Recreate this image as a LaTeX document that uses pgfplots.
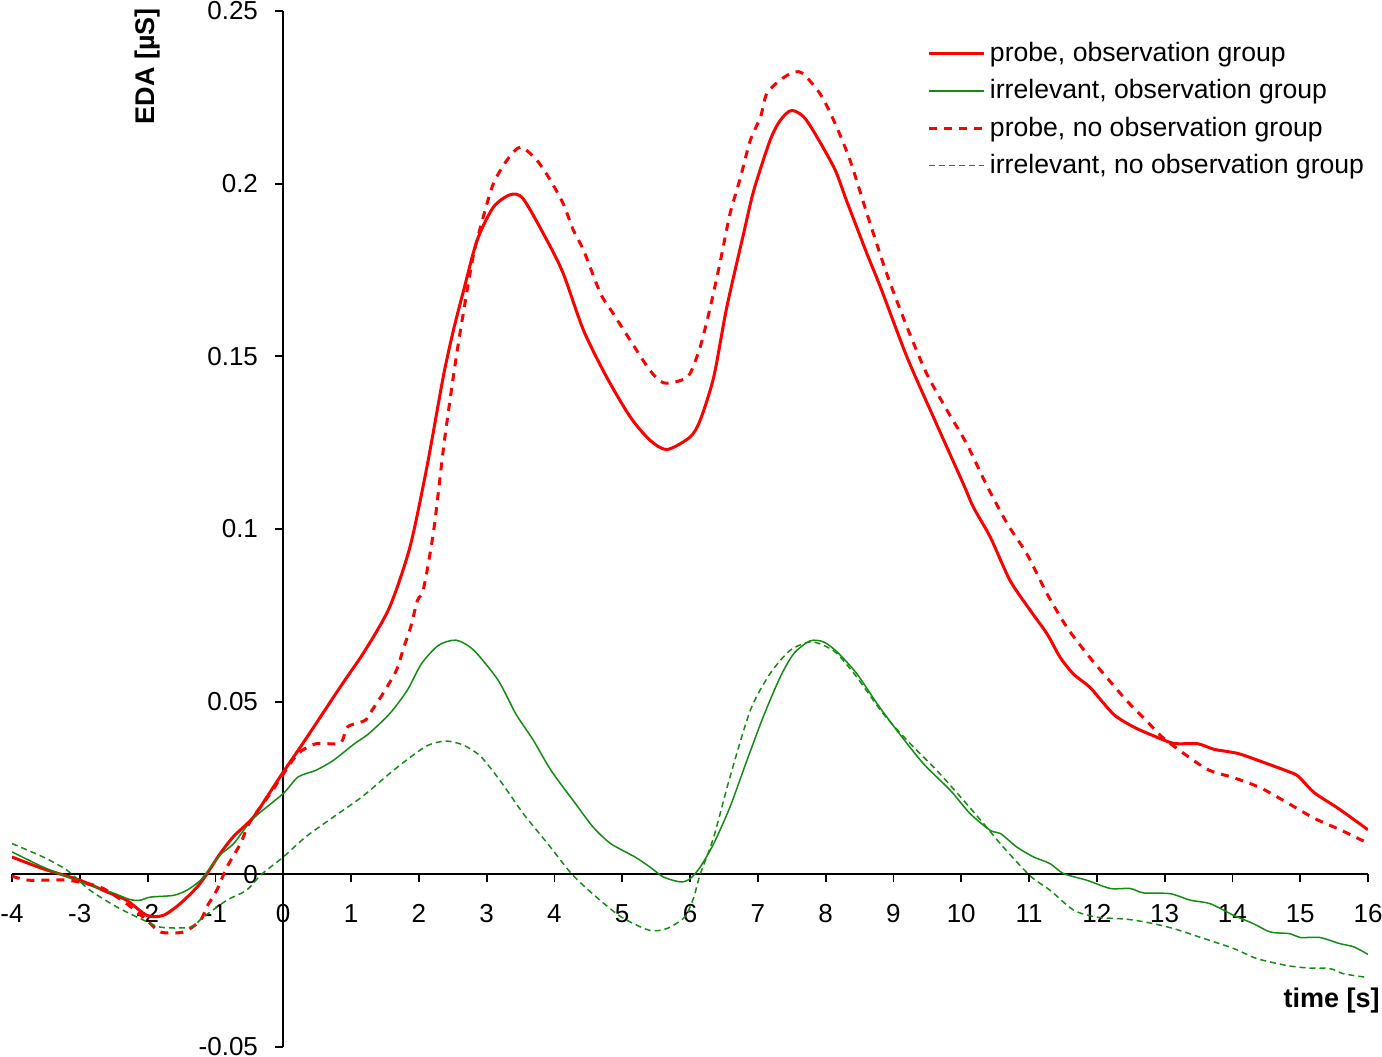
\documentclass[border=0pt]{standalone}
\usepackage{fontspec}
\setmainfont{Liberation Sans}
\usepackage{pgfplots}
\usepackage{pgfplotstable}
\pgfplotsset{compat=1.18}
\definecolor{exred}{RGB}{255,0,0}
\definecolor{exgreen}{RGB}{20,140,20}

\pgfplotstableread{
x y
-4.00 0.0050
-3.54 0.0016
-3.00 -0.0017
-2.60 -0.0051
-2.31 -0.0075
-2.01 -0.0119
-1.77 -0.0119
-1.52 -0.0085
-1.27 -0.0037
-1.13 0.0000
-0.93 0.0060
-0.73 0.0110
-0.45 0.0163
-0.22 0.0230
0.00 0.0296
0.32 0.0388
0.84 0.0542
1.21 0.0649
1.57 0.0774
1.87 0.0948
2.12 0.1180
2.36 0.1440
2.51 0.1575
2.66 0.1690
2.86 0.1836
3.10 0.1932
3.35 0.1968
3.54 0.1956
3.89 0.1836
4.13 0.1740
4.43 0.1575
4.77 0.1440
5.12 0.1324
5.41 0.1257
5.66 0.1230
6.00 0.1266
6.15 0.1315
6.35 0.1440
6.54 0.1640
6.79 0.1855
6.94 0.1980
7.18 0.2125
7.33 0.2183
7.50 0.2212
7.72 0.2183
8.12 0.2048
8.31 0.1950
8.61 0.1797
8.81 0.1700
9.20 0.1498
9.59 0.1324
10.03 0.1131
10.18 0.1063
10.43 0.0976
10.72 0.0851
11.02 0.0764
11.27 0.0695
11.46 0.0628
11.66 0.0579
11.90 0.0541
12.25 0.0463
12.55 0.0426
12.85 0.0400
13.14 0.0379
13.49 0.0378
13.73 0.0362
14.08 0.0350
14.42 0.0327
14.82 0.0298
14.97 0.0284
15.21 0.0236
15.56 0.0191
16.00 0.0129
}\probeobs

\pgfplotstableread{
x y
-4.00 0.0065
-3.54 0.0021
-3.00 -0.0022
-2.55 -0.0051
-2.26 -0.0073
-2.11 -0.0075
-1.96 -0.0066
-1.62 -0.0061
-1.42 -0.0046
-1.22 -0.0017
-1.03 0.0031
-0.91 0.0060
-0.73 0.0089
-0.45 0.0160
0.00 0.0234
0.22 0.0282
0.48 0.0301
0.74 0.0330
1.05 0.0378
1.26 0.0407
1.57 0.0465
1.83 0.0533
2.04 0.0610
2.29 0.0663
2.55 0.0678
2.81 0.0649
3.17 0.0562
3.43 0.0465
3.69 0.0388
3.95 0.0301
4.31 0.0205
4.57 0.0137
4.83 0.0089
5.19 0.0050
5.41 0.0021
5.61 -0.0008
5.86 -0.0022
6.00 -0.0013
6.15 0.0021
6.35 0.0089
6.59 0.0195
6.84 0.0330
7.08 0.0456
7.33 0.0571
7.53 0.0639
7.77 0.0676
7.97 0.0673
8.17 0.0644
8.46 0.0581
8.76 0.0494
9.05 0.0417
9.44 0.0321
9.84 0.0243
10.13 0.0176
10.43 0.0127
10.58 0.0118
10.82 0.0079
11.07 0.0050
11.31 0.0031
11.51 0.0002
11.85 -0.0017
12.20 -0.0041
12.49 -0.0041
12.69 -0.0054
13.08 -0.0056
13.38 -0.0075
13.67 -0.0085
14.02 -0.0119
14.31 -0.0143
14.56 -0.0167
14.85 -0.0172
15.00 -0.0183
15.29 -0.0183
15.59 -0.0201
15.79 -0.0210
16.00 -0.0232
}\irrobs

\pgfplotstableread{
x y
-4.00 -0.0005
-3.76 -0.0017
-3.19 -0.0017
-2.70 -0.0037
-2.31 -0.0085
-2.01 -0.0133
-1.81 -0.0167
-1.47 -0.0167
-1.22 -0.0133
-1.13 -0.0095
-0.98 -0.0046
-0.83 0.0021
-0.63 0.0089
-0.49 0.0152
-0.19 0.0234
0.00 0.0290
0.22 0.0350
0.48 0.0378
0.84 0.0380
0.95 0.0427
1.21 0.0446
1.31 0.0475
1.47 0.0523
1.67 0.0591
1.78 0.0658
1.88 0.0716
1.98 0.0793
2.07 0.0827
2.22 0.0996
2.36 0.1228
2.46 0.1373
2.56 0.1508
2.68 0.1653
2.81 0.1797
2.95 0.1903
3.10 0.2000
3.30 0.2068
3.50 0.2106
3.74 0.2068
3.94 0.2010
4.13 0.1942
4.28 0.1865
4.43 0.1807
4.68 0.1682
4.87 0.1623
5.12 0.1546
5.41 0.1459
5.61 0.1423
5.86 0.1430
6.00 0.1450
6.15 0.1527
6.30 0.1643
6.45 0.1778
6.59 0.1913
6.74 0.2015
6.89 0.2126
7.04 0.2193
7.13 0.2260
7.33 0.2300
7.53 0.2323
7.67 0.2318
7.92 0.2260
8.12 0.2183
8.36 0.2068
8.61 0.1913
8.90 0.1740
9.20 0.1585
9.49 0.1450
9.79 0.1344
10.08 0.1247
10.38 0.1125
10.68 0.1015
10.97 0.0927
11.27 0.0811
11.56 0.0715
11.86 0.0637
12.15 0.0569
12.45 0.0501
12.74 0.0443
12.95 0.0400
13.24 0.0356
13.64 0.0303
14.03 0.0279
14.42 0.0250
14.82 0.0206
15.21 0.0162
15.60 0.0128
16.00 0.0090
}\probenoobs

\pgfplotstableread{
x y
-4.00 0.0089
-3.54 0.0050
-3.19 0.0012
-2.85 -0.0046
-2.45 -0.0095
-2.11 -0.0128
-1.81 -0.0153
-1.37 -0.0153
-1.18 -0.0124
-0.83 -0.0075
-0.54 -0.0046
-0.32 0.0000
0.00 0.0050
0.33 0.0108
0.74 0.0166
1.16 0.0224
1.57 0.0292
1.88 0.0340
2.14 0.0374
2.40 0.0386
2.66 0.0374
2.92 0.0340
3.23 0.0263
3.54 0.0176
3.90 0.0089
4.26 0.0000
4.62 -0.0066
4.99 -0.0124
5.40 -0.0162
5.66 -0.0157
5.92 -0.0124
6.05 -0.0070
6.15 0.0000
6.35 0.0108
6.59 0.0282
6.89 0.0475
7.18 0.0581
7.48 0.0649
7.77 0.0673
7.97 0.0663
8.17 0.0639
8.46 0.0571
8.85 0.0465
9.25 0.0378
9.64 0.0301
9.99 0.0224
10.33 0.0147
10.62 0.0079
11.02 -0.0005
11.31 -0.0046
11.66 -0.0104
12.00 -0.0124
12.44 -0.0130
12.79 -0.0141
13.13 -0.0157
13.52 -0.0182
14.02 -0.0215
14.36 -0.0244
14.80 -0.0264
15.10 -0.0271
15.44 -0.0273
15.64 -0.0288
16.00 -0.0299
}\irrnoobs

\begin{document}
\fontsize{13.3}{16}\selectfont
\begin{tikzpicture}
\begin{axis}[
  scale only axis,
  width=678pt, height=518pt,
  xmin=-4, xmax=16, ymin=-0.05, ymax=0.25,
  axis lines=middle,
  axis line style={-, line width=0.9pt, black},
  hide obscured x ticks=false,
  hide obscured y ticks=false,
  xtick={-4,-3,-2,-1,0,1,2,3,4,5,6,7,8,9,10,11,12,13,14,15,16},
  xticklabels={-4,-3,-2,-1,0,1,2,3,4,5,6,7,8,9,10,11,12,13,14,15,16},
  ytick={-0.05,0,0.05,0.1,0.15,0.2,0.25},
  yticklabels={-0.05,0,0.05,0.1,0.15,0.2,0.25},
  tick align=outside,
  major tick length=4pt,
  xticklabel shift=6.5pt,
  yticklabel shift=4pt,
  tick style={black, line width=0.9pt},
  every tick label/.append style={font=\fontsize{13}{16}\selectfont},
  /pgf/number format/assume math mode=true,
  xlabel={time [s]},
  ylabel={EDA [µS]},
  every axis x label/.style={at={(rel axis cs:1.0088,0.0444)}, anchor=east, inner sep=0pt, font=\fontsize{13.5}{16}\selectfont\bfseries},
  every axis y label/.style={at={(rel axis cs:0.1003,1.003)}, anchor=east, rotate=90, inner sep=0pt, font=\fontsize{13.5}{16}\selectfont\bfseries},
  legend style={at={(rel axis cs:0.6752,0.974)}, anchor=north west, draw=none, fill=none,
    font=\fontsize{13.3}{16}\selectfont, row sep=3pt, inner sep=0pt,
    cells={anchor=west}},
  legend image code/.code={\draw[#1] (0pt,0pt) -- (27.5pt,0pt);},
  every axis plot/.append style={smooth, tension=0.45},
]
\addplot[exred, line width=1.5pt] table[x=x,y=y] {\probeobs};
\addlegendentry{probe, observation group}
\addplot[exgreen, line width=0.75pt] table[x=x,y=y] {\irrobs};
\addlegendentry{irrelevant, observation group}
\addplot[exred, line width=1.5pt, dash pattern=on 4pt off 3.5pt] table[x=x,y=y] {\probenoobs};
\addlegendentry{probe, no observation group}
\addplot[exgreen, line width=0.75pt, dash pattern=on 3pt off 2pt] table[x=x,y=y] {\irrnoobs};
\addlegendentry{irrelevant, no observation group}
\end{axis}
\pgfresetboundingbox
\path[use as bounding box] ([shift={(-6pt,-5pt)}]current axis.south west) rectangle ([shift={(7pt,5.5pt)}]current axis.north east);
\end{tikzpicture}
\end{document}
